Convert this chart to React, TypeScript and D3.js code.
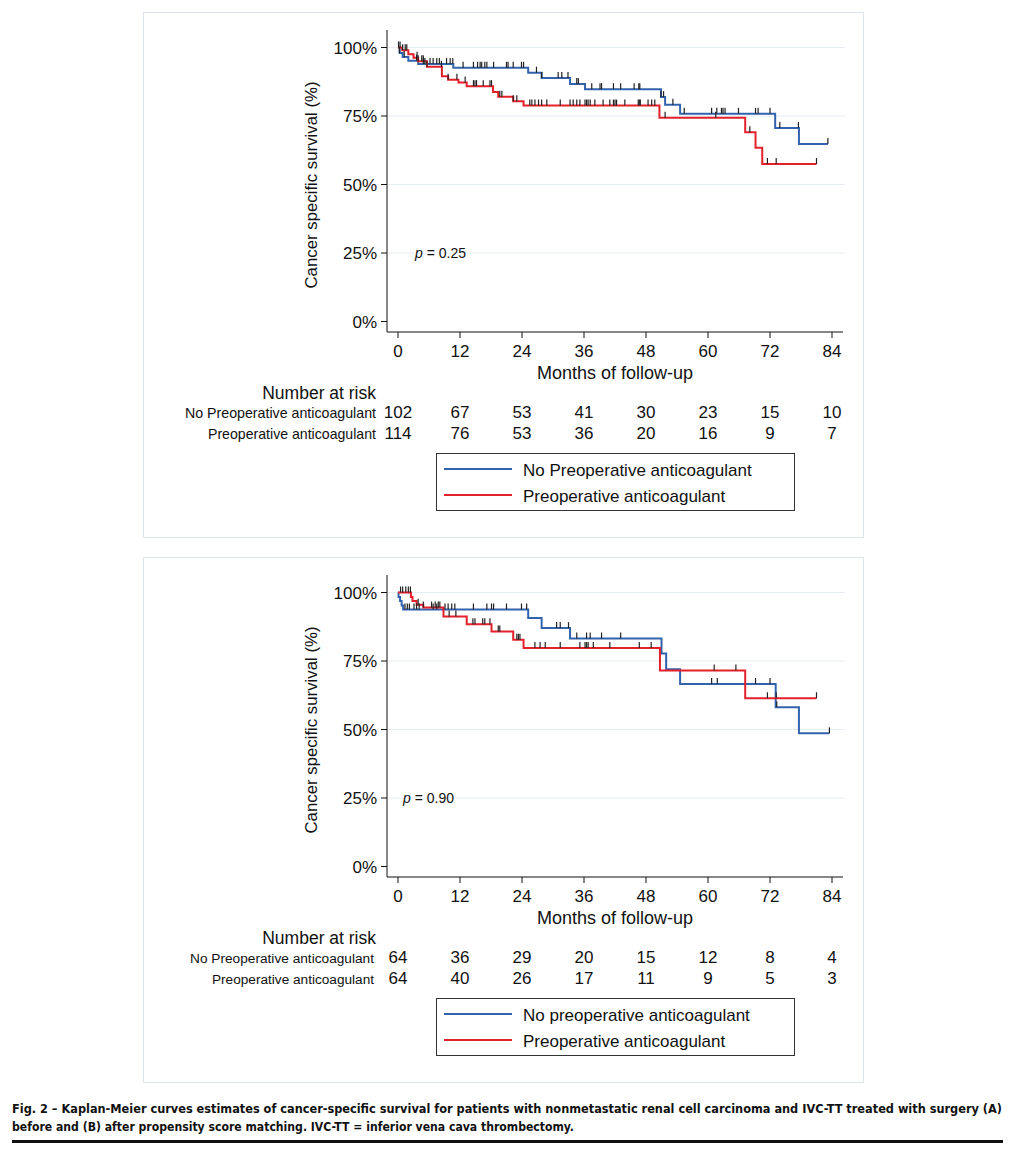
import * as d3 from 'd3';

// month axis + y axis ticks
const monthTicks = [0, 12, 24, 36, 48, 60, 72, 84];
const survTicks = [0, 25, 50, 75, 100];
const gridTicks = [25, 50, 75, 100];

// panel A (before matching) — [month, survival %]
const aNoneSteps: [number, number][] = [
  [0, 100], [0.3, 98.0], [0.9, 96.5], [2.0, 95.2], [3.9, 94.0], [10.7, 92.6],
  [25.2, 90.8], [27.8, 88.9], [33.3, 86.7], [36.2, 84.8], [50.9, 81.9], [51.7, 79.1],
  [54.6, 75.8], [73.0, 70.6], [77.6, 64.8], [83.2, 64.8],
];
const aPreSteps: [number, number][] = [
  [0, 100], [0.8, 99.0], [2.0, 97.5], [3.0, 96.3], [3.9, 95.0], [5.6, 93.0],
  [8.5, 89.5], [9.7, 88.2], [11.7, 87.2], [13.3, 85.9], [18.4, 83.8], [19.4, 82.0],
  [22.3, 80.4], [24.3, 78.8], [50.6, 74.4], [67.2, 69.1], [69.2, 63.4], [70.5, 57.5],
  [81.0, 57.5],
];
const aNoneCensor = [
  0.3, 1.2, 3.6, 4.9, 5.2, 6.2, 6.8, 7.5, 8.0, 9.4, 10.1, 10.6, 12.6, 14.6, 15.4, 15.9,
  16.2, 16.8, 17.2, 18.5, 21.0, 21.3, 22.3, 23.9, 24.3, 26.8, 27.8, 31.0, 31.7, 32.9,
  34.6, 34.9, 37.5, 39.1, 39.4, 41.7, 43.1, 45.7, 46.6, 46.8, 50.9, 51.4, 53.2, 55.4,
  60.7, 61.7, 62.6, 62.9, 63.3, 65.9, 69.2, 69.7, 72.0, 73.9, 77.5, 83.2,
];
const aPreCensor = [
  0.1, 0.4, 0.9, 1.4, 1.7, 3.7, 3.9, 4.6, 4.9, 5.6, 8.4, 9.7, 11.4, 13.0, 14.6, 14.9,
  15.2, 16.5, 17.8, 18.1, 19.7, 20.1, 22.3, 23.0, 25.5, 25.9, 26.5, 27.2, 27.8, 28.8,
  31.4, 33.3, 33.9, 34.6, 35.2, 36.2, 36.5, 36.8, 37.2, 38.1, 39.7, 41.0, 41.7, 42.0,
  42.3, 43.9, 46.5, 46.7, 46.9, 48.4, 49.1, 49.7, 51.7, 61.5, 68.1, 71.5, 73.2, 81.0,
];
const aRiskNone = [102, 67, 53, 41, 30, 23, 15, 10];
const aRiskPre = [114, 76, 53, 36, 20, 16, 9, 7];

// panel B (after propensity score matching)
const bNoneSteps: [number, number][] = [
  [0, 100], [0.1, 98.4], [0.4, 96.9], [0.7, 95.3], [1.0, 93.8], [25.2, 90.7],
  [27.8, 87.0], [33.3, 83.2], [51.0, 77.7], [51.9, 72.0], [54.6, 66.6], [73.1, 58.1],
  [77.6, 48.6], [83.5, 48.6],
];
const bPreSteps: [number, number][] = [
  [0, 100], [2.5, 98.4], [2.8, 96.9], [3.6, 95.5], [4.9, 94.5], [8.8, 91.2],
  [13.3, 88.4], [18.1, 85.8], [22.3, 82.8], [24.3, 79.7], [50.7, 71.5], [67.2, 61.4],
  [81.0, 61.4],
];
const bNoneCensor = [
  1.35, 1.8, 2.2, 3.1, 3.6, 4.1, 6.8, 7.5, 9.1, 9.7, 10.4, 11.0, 14.6, 17.2, 18.1, 18.5,
  21.0, 23.9, 24.9, 30.7, 31.4, 33.0, 34.6, 36.5, 37.2, 39.4, 43.1, 60.7, 61.8, 69.2,
  72.0, 73.3, 83.5,
];
const bPreCensor = [
  0.5, 0.9, 1.5, 2.0, 2.4, 3.9, 4.9, 6.5, 7.2, 7.8, 8.1, 9.9, 11.2, 14.5, 14.9, 16.4,
  16.8, 17.8, 19.4, 19.7, 23.0, 23.3, 23.6, 26.5, 27.5, 28.5, 31.4, 35.2, 36.2, 36.5,
  36.8, 37.8, 41.0, 46.7, 49.0, 61.2, 65.4, 71.5, 73.2, 81.0,
];
const bRiskNone = [64, 36, 29, 20, 15, 12, 8, 4];
const bRiskPre = [64, 40, 26, 17, 11, 9, 5, 3];

const BLUE = '#3463ae';
const RED = '#e3212b';
const FONT = '"Liberation Sans", Arial, Helvetica, sans-serif';
const CAPTION_FONT = '"DejaVu Sans Condensed", "Liberation Sans Narrow", sans-serif';

const x = d3.scaleLinear().domain([0, 84]).range([398, 832]);

function survAt(steps: [number, number][], t: number) {
  const i = d3.bisector((d: [number, number]) => d[0]).right(steps, t) - 1;
  return steps[Math.max(0, i)][1];
}

interface PanelProps {
  top: number;
  none: [number, number][];
  pre: [number, number][];
  noneCensor: number[];
  preCensor: number[];
  riskNone: number[];
  riskPre: number[];
  pText: string;
  pX: number;
  legendNone: string;
}

function Panel(p: PanelProps) {
  const t = p.top;
  const y = d3.scaleLinear().domain([0, 100]).range([t + 309.5, t + 35.5]);
  const line = d3.line<[number, number]>()
    .x(d => x(d[0]))
    .y(d => y(d[1]))
    .curve(d3.curveStepAfter);
  const axisY = t + 320;
  const isA = t < 100;

  const censor = (steps: [number, number][], times: number[]) =>
    times.map((c, i) => {
      const yy = y(survAt(steps, c));
      return <line key={i} x1={x(c)} x2={x(c)} y1={yy} y2={yy - 6} stroke="#222" strokeWidth={1.2} />;
    });

  return (
    <g>
      <rect x={143.5} y={t + 0.5} width={720} height={525} fill="white" stroke="#dde5ec" strokeWidth={1} />
      {gridTicks.map(v => (
        <line key={v} x1={388} x2={845} y1={y(v)} y2={y(v)} stroke="#e6edf2" strokeWidth={1} />
      ))}
      {/* axes */}
      <line x1={387} x2={387} y1={t + 18} y2={axisY} stroke="#111" strokeWidth={1} />
      <line x1={387} x2={843} y1={axisY} y2={axisY} stroke="#111" strokeWidth={1} />
      {survTicks.map(v => (
        <g key={v}>
          <line x1={381} x2={387} y1={y(v)} y2={y(v)} stroke="#111" />
          <text x={377} y={y(v) + 6} textAnchor="end" fontSize={17} fontFamily={FONT} fill="#111">{v}%</text>
        </g>
      ))}
      {monthTicks.map(m => (
        <g key={m}>
          <line x1={x(m)} x2={x(m)} y1={axisY} y2={axisY + 6} stroke="#111" />
          <text x={x(m)} y={axisY + 25} textAnchor="middle" fontSize={17} fontFamily={FONT} fill="#111">{m}</text>
        </g>
      ))}
      <text x={615} y={t + 367} textAnchor="middle" fontSize={18} fontFamily={FONT} fill="#111">Months of follow-up</text>
      <text transform={`translate(317,${t + 173}) rotate(-90)`} textAnchor="middle" fontSize={16.8} fontFamily={FONT} fill="#111">
        Cancer specific survival (%)
      </text>
      <text x={p.pX} y={y(25) + 5} fontSize={14} fontFamily={FONT} fill="#111">
        <tspan fontStyle="italic">p</tspan> = {p.pText}
      </text>

      {/* curves */}
      <path d={line(p.none) ?? ''} fill="none" stroke={BLUE} strokeWidth={2} />
      <path d={line(p.pre) ?? ''} fill="none" stroke={RED} strokeWidth={2} />
      {censor(p.none, p.noneCensor)}
      {censor(p.pre, p.preCensor)}

      {/* number at risk */}
      <text x={376} y={t + 387} textAnchor="end" fontSize={17.5} fontFamily={FONT} fill="#111">Number at risk</text>
      <text x={isA ? 376 : 374} y={t + 406} textAnchor="end" fontSize={isA ? 14.2 : 13.7} fontFamily={FONT} fill="#111"
        textLength={isA ? 191 : 184} lengthAdjust="spacingAndGlyphs">No Preoperative anticoagulant</text>
      <text x={isA ? 376 : 374} y={t + 427} textAnchor="end" fontSize={isA ? 14.2 : 13.7} fontFamily={FONT} fill="#111"
        textLength={isA ? 168 : 162} lengthAdjust="spacingAndGlyphs">Preoperative anticoagulant</text>
      {p.riskNone.map((n, i) => (
        <text key={'n' + i} x={x(monthTicks[i])} y={t + 406} textAnchor="middle" fontSize={17} fontFamily={FONT} fill="#111">{n}</text>
      ))}
      {p.riskPre.map((n, i) => (
        <text key={'p' + i} x={x(monthTicks[i])} y={t + 427} textAnchor="middle" fontSize={17} fontFamily={FONT} fill="#111">{n}</text>
      ))}

      {/* legend */}
      <rect x={436.5} y={t + 441.5} width={358} height={57} fill="white" stroke="#333" strokeWidth={1} />
      <line x1={444} x2={512} y1={t + 457} y2={t + 457} stroke={BLUE} strokeWidth={1.8} />
      <line x1={444} x2={512} y1={t + 483} y2={t + 483} stroke={RED} strokeWidth={1.8} />
      <text x={523} y={t + 464} fontSize={17} fontFamily={FONT} fill="#111">{p.legendNone}</text>
      <text x={523} y={t + 490} fontSize={17} fontFamily={FONT} fill="#111">Preoperative anticoagulant</text>
    </g>
  );
}

export default function App() {
  return (
    <div style={{ position: 'absolute', left: 0, top: 0 }}>
      <svg width={1016} height={1154} style={{ display: 'block', background: 'white' }}>
        <Panel top={12} none={aNoneSteps} pre={aPreSteps} noneCensor={aNoneCensor} preCensor={aPreCensor}
          riskNone={aRiskNone} riskPre={aRiskPre} pText="0.25" pX={415} legendNone="No Preoperative anticoagulant" />
        <Panel top={557} none={bNoneSteps} pre={bPreSteps} noneCensor={bNoneCensor} preCensor={bPreCensor}
          riskNone={bRiskNone} riskPre={bRiskPre} pText="0.90" pX={403} legendNone="No preoperative anticoagulant" />

        {/* caption */}
        <text x={12} y={1113} fontSize={12.5} fontWeight="bold" fontFamily={CAPTION_FONT}
          fill="#111" textLength={990} lengthAdjust="spacingAndGlyphs">
          Fig. 2 – Kaplan-Meier curves estimates of cancer-specific survival for patients with nonmetastatic renal cell carcinoma and IVC-TT treated with surgery (A)
        </text>
        <text x={12} y={1131} fontSize={12.5} fontWeight="bold" fontFamily={CAPTION_FONT}
          fill="#111" textLength={562} lengthAdjust="spacingAndGlyphs">
          before and (B) after propensity score matching. IVC-TT = inferior vena cava thrombectomy.
        </text>
        <line x1={12} x2={1003} y1={1141.5} y2={1141.5} stroke="#111" strokeWidth={3} />
      </svg>
    </div>
  );
}
